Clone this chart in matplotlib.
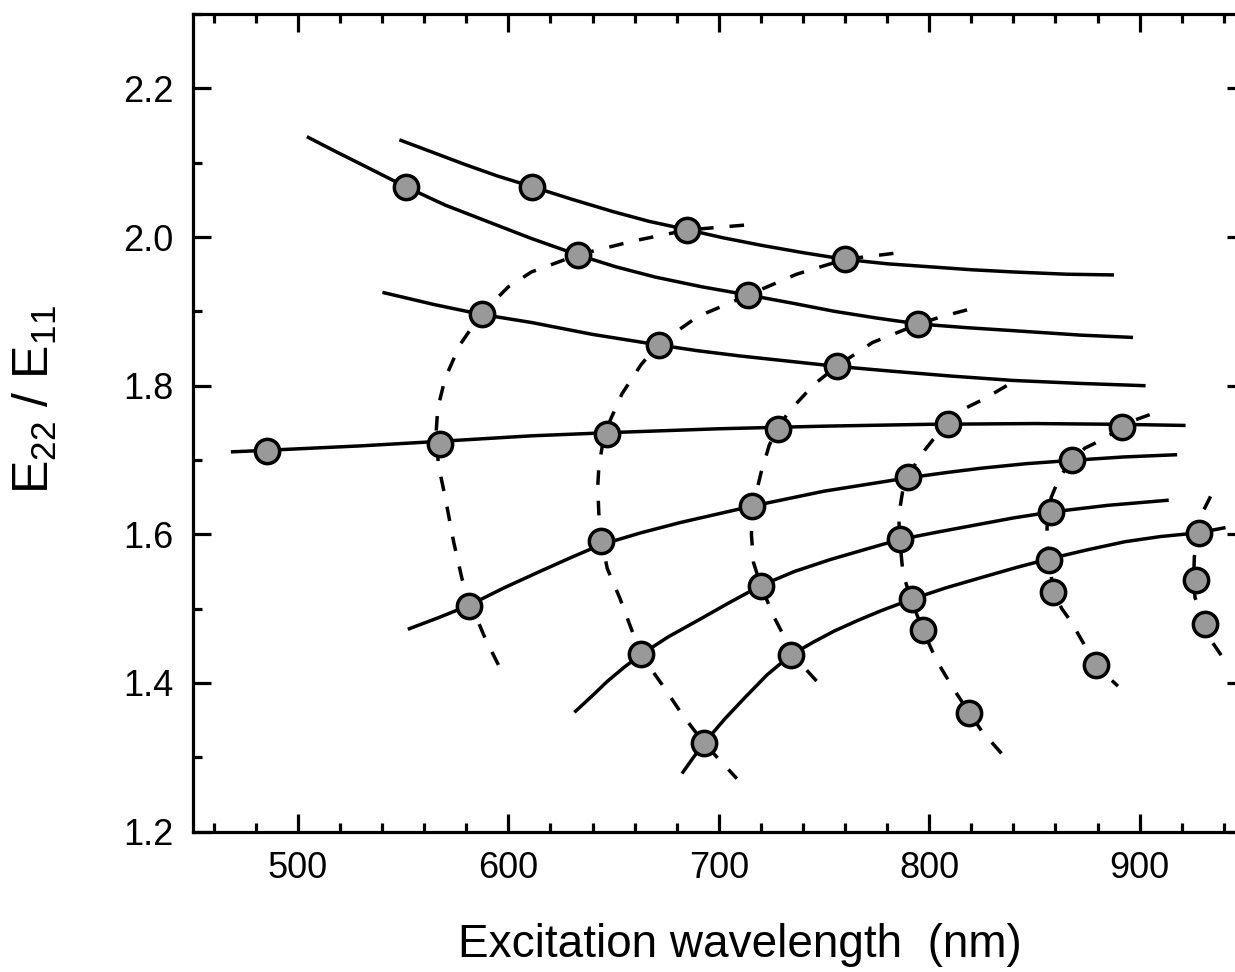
import matplotlib
matplotlib.use("Agg")
import matplotlib.pyplot as plt
from matplotlib.ticker import MultipleLocator

plt.rcParams['font.family'] = ['Liberation Sans', 'DejaVu Sans']
plt.rcParams['mathtext.fontset'] = 'custom'
plt.rcParams['mathtext.rm'] = 'Liberation Sans'
plt.rcParams['mathtext.default'] = 'regular'

# measured points (excitation wavelength in nm, E22/E11)
wl = [551.3, 611.2, 685.1, 760.0, 633.3, 714.0, 794.8, 587.4, 671.4, 756.0,
      485.3, 567.5, 647.1, 728.2, 809.1, 891.8, 790.1, 867.7, 715.8, 644.0,
      858.0, 786.0, 581.4, 720.0, 857.0, 859.0, 792.0, 797.1, 662.9, 734.2,
      879.1, 818.9, 693.0, 928.2, 926.9, 930.9]
ratio = [2.068, 2.068, 2.0095, 1.970, 1.976, 1.922, 1.883, 1.896, 1.855, 1.826,
         1.7125, 1.722, 1.735, 1.742, 1.749, 1.744, 1.677, 1.6995, 1.6386, 1.5906,
         1.630, 1.593, 1.504, 1.531, 1.566, 1.5226, 1.513, 1.471, 1.4383, 1.437,
         1.4235, 1.360, 1.3187, 1.602, 1.538, 1.4796]

# solid curves
fit_a_x = [549, 565, 580, 595, 611, 630, 650, 667, 685, 702, 720, 740, 760, 780, 800, 820, 840, 865, 887]
fit_a_y = [2.130, 2.113, 2.097, 2.082, 2.068, 2.051, 2.034, 2.021, 2.010, 1.999, 1.989, 1.979, 1.970, 1.964, 1.960, 1.956, 1.953, 1.950, 1.949]
fit_b_x = [505, 518, 530, 551, 570, 590, 611, 633, 651, 670, 692, 714, 735, 755, 775, 795, 818, 840, 872, 896]
fit_b_y = [2.134, 2.115, 2.098, 2.068, 2.043, 2.021, 1.998, 1.976, 1.960, 1.946, 1.933, 1.922, 1.911, 1.900, 1.891, 1.883, 1.878, 1.874, 1.868, 1.865]
fit_c_x = [541, 565, 587, 611, 640, 671, 690, 710, 733, 756, 780, 810, 840, 872, 902]
fit_c_y = [1.925, 1.909, 1.896, 1.885, 1.869, 1.855, 1.847, 1.840, 1.833, 1.826, 1.820, 1.813, 1.807, 1.803, 1.800]
fit_d_x = [469, 485, 530, 567, 611, 650, 700, 750, 800, 850, 890, 921]
fit_d_y = [1.711, 1.713, 1.719, 1.725, 1.7325, 1.737, 1.742, 1.7455, 1.748, 1.749, 1.748, 1.7465]
fit_e_x = [553, 567, 581, 598, 615, 630, 644, 663, 682, 699, 716, 733, 750, 770, 790, 808, 825, 846, 868, 892, 917]
fit_e_y = [1.473, 1.488, 1.504, 1.528, 1.550, 1.569, 1.586, 1.602, 1.616, 1.627, 1.638, 1.648, 1.658, 1.667, 1.676, 1.683, 1.689, 1.695, 1.6995, 1.704, 1.707]
fit_f_x = [632, 640, 647, 655, 663, 676, 690, 705, 720, 736, 753, 770, 786, 804, 822, 840, 858, 885, 913]
fit_f_y = [1.362, 1.383, 1.402, 1.421, 1.438, 1.462, 1.484, 1.508, 1.531, 1.550, 1.566, 1.580, 1.593, 1.603, 1.6125, 1.622, 1.630, 1.639, 1.6457]
fit_g_x = [683, 688, 693, 703, 713, 723, 734, 745, 755, 766, 777, 792, 808, 825, 841, 857, 875, 893, 910, 928, 940]
fit_g_y = [1.280, 1.300, 1.319, 1.352, 1.382, 1.411, 1.437, 1.455, 1.470, 1.484, 1.497, 1.513, 1.528, 1.542, 1.555, 1.567, 1.579, 1.590, 1.597, 1.602, 1.6086]

# dashed curves
fam_1_x = [712, 685, 660, 633, 611, 600, 587, 577, 570, 566.5, 565.5, 567, 570, 574, 578, 583, 589, 597]
fam_1_y = [2.016, 2.0095, 1.995, 1.976, 1.953, 1.933, 1.896, 1.855, 1.81, 1.77, 1.73, 1.69, 1.65, 1.59, 1.54, 1.50, 1.46, 1.4145]
fam_2_x = [783, 760, 737, 714, 700, 690, 671, 663, 654, 648.5, 645, 643, 642.5, 643, 644.5, 647, 653, 658, 663, 673, 683, 693, 708.6]
fam_2_y = [1.978, 1.970, 1.950, 1.922, 1.905, 1.893, 1.855, 1.828, 1.789, 1.754, 1.725, 1.69, 1.665, 1.628, 1.59, 1.554, 1.514, 1.476, 1.438, 1.398, 1.356, 1.319, 1.2712]
fam_3_x = [818, 806, 795, 773, 756, 745, 733, 728, 724, 720, 716.5, 715.5, 716.5, 720, 726, 733, 737, 746.5]
fam_3_y = [1.902, 1.893, 1.883, 1.858, 1.826, 1.801, 1.764, 1.742, 1.72, 1.682, 1.64, 1.60, 1.562, 1.531, 1.49, 1.452, 1.432, 1.4024]
fam_4_x = [836.8, 826, 816, 809, 802, 795, 790, 787.5, 785.5, 786, 787.5, 791, 797, 803.5, 812, 819, 825, 834.4]
fam_4_y = [1.80, 1.782, 1.768, 1.749, 1.728, 1.703, 1.677, 1.66, 1.625, 1.593, 1.548, 1.515, 1.471, 1.43, 1.39, 1.36, 1.335, 1.305]
fam_5_x = [904.8, 898, 891.8, 882, 874, 868, 862, 858, 856, 856, 857, 859, 863, 867.5, 875, 879, 889.7]
fam_5_y = [1.761, 1.754, 1.744, 1.727, 1.716, 1.700, 1.677, 1.65, 1.61, 1.585, 1.564, 1.523, 1.50, 1.482, 1.445, 1.4235, 1.3957]
fam_6_x = [933.7, 930.5, 928.2, 926, 925.6, 926.3, 929, 931, 934.7, 938.8]
fam_6_y = [1.651, 1.633, 1.602, 1.57, 1.54, 1.515, 1.495, 1.4796, 1.454, 1.437]

solid = [(fit_a_x, fit_a_y), (fit_b_x, fit_b_y), (fit_c_x, fit_c_y), (fit_d_x, fit_d_y),
         (fit_e_x, fit_e_y), (fit_f_x, fit_f_y), (fit_g_x, fit_g_y)]
dashed = [(fam_1_x, fam_1_y), (fam_2_x, fam_2_y), (fam_3_x, fam_3_y),
          (fam_4_x, fam_4_y), (fam_5_x, fam_5_y), (fam_6_x, fam_6_y)]

fig = plt.figure(figsize=(12.35, 9.72), dpi=100)
# right spine sits just outside the picture, as in the original
ax = fig.add_axes([0.156, 0.1445, 0.852, 0.841])

for xs, ys in solid:
    ax.plot(xs, ys, color='black', lw=2.5, solid_joinstyle='round', zorder=2)
for xs, ys in dashed:
    ax.plot(xs, ys, color='black', lw=2.5, ls=(0, (4.2, 4.6)), zorder=2)

ax.plot(wl, ratio, 'o', ms=17.5, mfc='#999999', mec='black', mew=2.5, zorder=3)

ax.set_xlim(450, 950)
ax.set_ylim(1.2, 2.3)
ax.xaxis.set_major_locator(MultipleLocator(100))
ax.xaxis.set_minor_locator(MultipleLocator(20))
ax.yaxis.set_major_locator(MultipleLocator(0.2))
ax.yaxis.set_minor_locator(MultipleLocator(0.1))

ax.tick_params(which='both', direction='in', top=True, right=True, width=2.3)
ax.tick_params(which='major', length=13, labelsize=26, pad=14)
ax.tick_params(which='minor', length=6.5)
for sp in ax.spines.values():
    sp.set_linewidth(2.3)

fig.text(740 / 1235, 1 - 945 / 972, 'Excitation wavelength  (nm)',
         fontsize=33, ha='center', va='center')
fig.text(35 / 1235, 1 - 400 / 972, 'E$_{22}$ / E$_{11}$',
         fontsize=36, ha='center', va='center', rotation=90)

fig.savefig('out.png', dpi=100)
